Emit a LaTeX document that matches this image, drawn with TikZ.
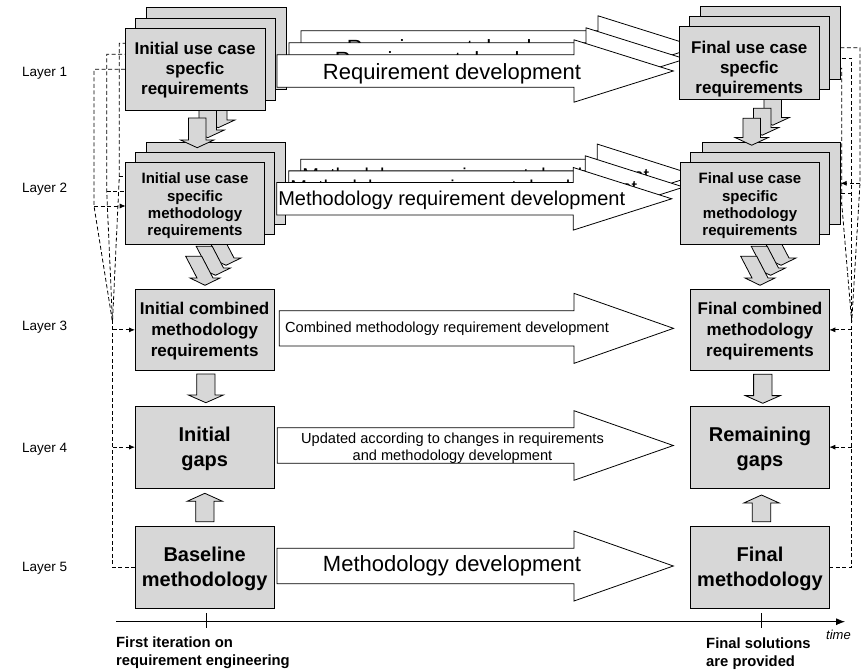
\documentclass[tikz,border=0pt]{standalone}
\usepackage{fontspec}
\setmainfont{Liberation Sans}
\usetikzlibrary{calc,arrows.meta}

\pgfdeclarelayer{links}
\pgfdeclarelayer{dnB}
\pgfdeclarelayer{boxB}
\pgfdeclarelayer{dnA}
\pgfdeclarelayer{boxA}
\pgfdeclarelayer{flow}
\pgfdeclarelayer{dnBR}
\pgfdeclarelayer{boxBR}
\pgfdeclarelayer{dnAR}
\pgfsetlayers{links,dnB,boxB,dnA,boxA,flow,dnBR,boxBR,dnAR,main}

\definecolor{boxgray}{RGB}{215,215,215}

% block arrow: style, start, tip, shaft half width, head half width, head length
\newcommand\blockarr[6]{%
  \coordinate (bas) at #2;
  \coordinate (bat) at #3;
  \coordinate (bab) at ($(bat)!#6!(bas)$);
  \filldraw[#1] ($(bas)!#4!90:(bat)$) -- ($(bab)!#4!90:(bat)$) -- ($(bab)!#5!90:(bat)$)
     -- (bat) -- ($(bab)!#5!-90:(bat)$) -- ($(bab)!#4!-90:(bat)$) -- ($(bas)!#4!-90:(bat)$) -- cycle;}

% downward arrow with a slanted shaft: style, shaft top centre, head base centre,
% shaft half width, head half width, head length
\newcommand\slantarr[6]{%
  \coordinate (sla) at #2;
  \coordinate (slb) at #3;
  \filldraw[#1] ($(sla)+(-#4,0)$) -- ($(sla)+(#4,0)$) -- ($(slb)+(#4,0)$) -- ($(slb)+(#5,0)$)
     -- ($(slb)+(0,#6)$) -- ($(slb)+(-#5,0)$) -- ($(slb)+(-#4,0)$) -- cycle;}

% grey box with its caption: name, centre, width, height, caption style, caption
\newcommand\card[6]{%
  \node[box, minimum width=#3, minimum height=#4] (#1) at #2 {};
  \node[#5] (#1-t) at (#1.center) {#6};}

\tikzset{
  box/.style={draw=black, line width=0.8pt, fill=boxgray, inner sep=0pt, outer sep=0pt},
  garrow/.style={draw=black, line width=0.8pt, fill=boxgray, line join=miter},
  warrow/.style={draw=black, line width=0.8pt, fill=white, line join=miter},
  link/.style={draw=black, line width=0.8pt, dash pattern=on 4pt off 2.5pt},
  linkarr/.style={link, -{Latex[length=6pt,width=5pt]}},
  fA/.style={align=center, inner sep=0pt, font=\fontsize{17}{20}\selectfont\bfseries, yshift=-1pt},
  fB/.style={align=center, inner sep=0pt, font=\fontsize{15}{17.3}\selectfont\bfseries, yshift=-2.7pt},
  fC/.style={align=center, inner sep=0pt, font=\fontsize{17}{21}\selectfont\bfseries, yshift=-1.5pt},
  fD/.style={align=center, inner sep=0pt, font=\fontsize{20}{24.5}\selectfont\bfseries, yshift=-1.5pt},
  big/.style={inner sep=0pt, font=\fontsize{22}{26}\selectfont},
  mid/.style={inner sep=0pt, font=\fontsize{20}{24}\selectfont},
  small/.style={inner sep=0pt, align=center, font=\fontsize{14.6}{17.4}\selectfont},
  layer/.style={inner sep=0pt, anchor=west, font=\fontsize{13.5}{16}\selectfont},
  foot/.style={inner sep=0pt, anchor=west, align=left, font=\fontsize{14.8}{18.3}\selectfont\bfseries},
}

\begin{document}
\begin{tikzpicture}[x=1pt, y=-1pt, line join=miter]
\useasboundingbox (0,0) rectangle (862,671);

% ---------- layer 1 and 2 stacks, left ----------
\begin{pgfonlayer}{boxA}
  \card{iu1a}{(216,48.5)}{140pt}{82pt}{fA}{Initial use case\\specfic\\requirements}
  \card{iu1b}{(205,59)}{140pt}{82pt}{fA}{Initial use case\\specfic\\requirements}
  \card{iu1c}{(195,69)}{140pt}{82pt}{fA}{Initial use case\\specfic\\requirements}
\end{pgfonlayer}
\begin{pgfonlayer}{boxB}
  \card{im2a}{(215.85,183.3)}{138.6pt}{82pt}{fB}{Initial use case\\specific\\methodology\\requirements}
  \card{im2b}{(205,193.3)}{138.6pt}{82pt}{fB}{Initial use case\\specific\\methodology\\requirements}
  \card{im2c}{(195,203.3)}{138.6pt}{82pt}{fB}{Initial use case\\specific\\methodology\\requirements}
\end{pgfonlayer}

% ---------- layer 1 and 2 stacks, right ----------
\card{fu1a}{(770.3,42.8)}{140pt}{73pt}{fA,yshift=-5pt}{Final use case\\specfic\\requirements}
\card{fu1b}{(759.3,52.8)}{140pt}{73pt}{fA,yshift=-5pt}{Final use case\\specfic\\requirements}
\card{fu1c}{(749.3,63)}{140pt}{73pt}{fA,yshift=-5pt}{Final use case\\specfic\\requirements}
\begin{pgfonlayer}{boxBR}
  \card{fm2a}{(771.35,183.3)}{138.6pt}{82pt}{fB}{Final use case\\specific\\methodology\\requirements}
  \card{fm2b}{(760,193.3)}{138.6pt}{82pt}{fB}{Final use case\\specific\\methodology\\requirements}
  \card{fm2c}{(750,203.3)}{138.6pt}{82pt}{fB}{Final use case\\specific\\methodology\\requirements}
\end{pgfonlayer}

% ---------- layers 3 to 5 ----------
\card{icm}{(204.65,329.85)}{139.3pt}{81.7pt}{fC}{Initial combined\\methodology\\requirements}
\card{igap}{(204.65,447.15)}{139.3pt}{82.3pt}{fD}{Initial\\gaps}
\card{bmeth}{(204.65,567.5)}{139.3pt}{81.6pt}{fD}{Baseline\\methodology}
\card{fcm}{(760,329.85)}{138.6pt}{81.7pt}{fC}{Final combined\\methodology\\requirements}
\card{rgap}{(760,447.15)}{138.6pt}{82.3pt}{fD}{Remaining\\gaps}
\card{fmeth}{(760,567.5)}{138.6pt}{81.6pt}{fD}{Final\\methodology}

% ---------- development arrows of the stacked layers ----------
\begin{pgfonlayer}{flow}
  \coordinate (q1s) at ($(iu1c.east)+(12,2)$);
  \coordinate (q1t) at ($(fu1c.west)+(-6,8)$);
  \foreach \k in {2,1,0} {%
    \blockarr{warrow}{($(q1s)+(12*\k,-12*\k)$)}{($(q1t)+(12*\k,-12*\k)$)}{16.2pt}{31.2pt}{99.3pt}
    \node[big] (q1n\k) at ($(q1s)+(175+12*\k,2.5-12*\k)$) {Requirement development};
  }
  \coordinate (q2s) at ($(im2c.east)+(12.4,-4.5)$);
  \coordinate (q2t) at ($(fm2c.west)+(-9,-4.5)$);
  \foreach \k in {2,1,0} {%
    \blockarr{warrow}{($(q2s)+(12*\k,-11.7*\k)$)}{($(q2t)+(12*\k,-11.7*\k)$)}{16.2pt}{31.3pt}{98.4pt}
    \node[mid] (q2n\k) at ($(q2s)+(175+12*\k,1.9-11.7*\k)$) {Methodology requirement development};
  }
\end{pgfonlayer}

% ---------- development arrows of layers 3 to 5 ----------
\blockarr{warrow}{($(icm.east)+(5,-1.5)$)}{($(fcm.west)+(-17.2,-1.5)$)}{17.7pt}{35pt}{99.5pt}
\node[small] (q3n) at ($(icm.east)+(172.7,-1.5)$) {Combined methodology requirement development};
\blockarr{warrow}{($(igap.east)+(3,-1.65)$)}{($(rgap.west)+(-17.4,-1.65)$)}{17.8pt}{34.8pt}{99.3pt}
\node[small] (q4n) at ($(igap.east)+(178.2,0.85)$) {Updated according to changes in requirements\\and methodology development};
\blockarr{warrow}{($(bmeth.east)+(2.7,-1.5)$)}{($(fmeth.west)+(-17.4,-1.5)$)}{17.8pt}{35pt}{99.3pt}
\node[big] (q5n) at ($(bmeth.east)+(177.7,-1.5)$) {Methodology development};

% ---------- vertical block arrows ----------
\begin{pgfonlayer}{dnA}
  \foreach \k in {2,1,0} {%
    \blockarr{garrow}{($(iu1c.south)+(2.2+10.5*\k,8-10*\k)$)}{($(iu1c.south)+(2.2+10.5*\k,37.7-10*\k)$)}{8.8pt}{16.7pt}{7.7pt}
  }
\end{pgfonlayer}
\begin{pgfonlayer}{dnAR}
  \foreach \k in {2,1,0} {%
    \blockarr{garrow}{($(fu1c.south)+(2.4+10.5*\k,18.7-10*\k)$)}{($(fu1c.south)+(2.4+10.5*\k,45.7-10*\k)$)}{8.8pt}{16.7pt}{7.7pt}
  }
\end{pgfonlayer}
\begin{pgfonlayer}{dnB}
  \foreach \k in {2,1,0} {%
    \slantarr{garrow}{($(im2c.south)+(-1.3+10.5*\k,12-10*\k)$)}{($(im2c.south)+(10+10.5*\k,33.7-10*\k)$)}{8}{15}{7.3}
  }
\end{pgfonlayer}
\begin{pgfonlayer}{dnBR}
  \foreach \k in {2,1,0} {%
    \slantarr{garrow}{($(fm2c.south)+(-1.3+10.5*\k,12-10*\k)$)}{($(fm2c.south)+(10+10.5*\k,33.7-10*\k)$)}{8}{15}{7.3}
  }
\end{pgfonlayer}
\blockarr{garrow}{($(icm.south)+(1.2,3.3)$)}{($(icm.south)+(1.2,32)$)}{9.2pt}{17.5pt}{7.7pt}
\blockarr{garrow}{($(fcm.south)+(2.8,3.6)$)}{($(fcm.south)+(2.8,32.6)$)}{9.2pt}{17.5pt}{7.7pt}
\blockarr{garrow}{($(bmeth.north)+(0.2,-5)$)}{($(bmeth.north)+(0.2,-33.4)$)}{9.2pt}{17.7pt}{8pt}
\blockarr{garrow}{($(fmeth.north)+(1.5,-5)$)}{($(fmeth.north)+(1.5,-31.7)$)}{9.2pt}{17.7pt}{8pt}

% ---------- dashed feedback lines ----------
\begin{pgfonlayer}{links}
  \coordinate (lm) at (112.5,322);
  \coordinate (rm) at (851.7,322);
  \draw[link] ($(iu1a.west)+(0,-5.2)$) -| (119.3,176.7) -- (lm);
  \draw[linkarr] (119.3,176.7) -- ($(im2a.west)+(0,-6.6)$);
  \draw[link] ($(iu1b.west)+(0,-4.7)$) -| (106.7,191) -- (lm);
  \draw[linkarr] (106.7,191) -- ($(im2b.west)+(0,-2.3)$);
  \draw[link] ($(iu1c.west)+(0,0.3)$) -| (94,206) -- (lm);
  \draw[linkarr] (94,206) -- ($(im2c.west)+(0,2.7)$);
  \draw[link] (bmeth.west) -| (lm);
  \draw[linkarr] (icm.west -| lm) -- (icm.west);
  \draw[linkarr] (igap.west -| lm) -- (igap.west);
  \draw[link] ($(fu1a.east)+(0,4.9)$) -| (860,183.3) -- (rm);
  \draw[linkarr] (860,183.3) -- (fm2a.east);
  \draw[link] ($(fu1b.east)+(0,5.5)$) -| (rm);
  \draw[linkarr] (fm2b.east -| rm) -- (fm2b.east);
  \draw[link] ($(fu1c.east)+(0,5.3)$) -| (841.7,203.3) -- (rm);
  \draw[linkarr] (841.7,203.3) -- (fm2c.east);
  \draw[link] (fmeth.east) -| (rm);
  \draw[linkarr] (fcm.east -| rm) -- (fcm.east);
  \draw[linkarr] (rgap.east -| rm) -- (rgap.east);
\end{pgfonlayer}

% ---------- time axis ----------
\coordinate (t0) at (116,621.7);
\coordinate (t1) at (845,621.7);
\draw[line width=0.8pt, -{Latex[length=9pt,width=7pt]}] (t0) -- (t1);
\draw[line width=0.8pt] ($(bmeth.south)+(2,5)$) -- ++(0,15);
\draw[line width=0.8pt] ($(fmeth.south)+(1.7,5)$) -- ++(0,15);
\node[inner sep=0pt, anchor=west, font=\fontsize{13}{15}\selectfont\itshape] (tm) at (826,635) {time};
\node[foot] (ft0) at (116,653) {First iteration on\\requirement engineering};
\node[foot] (ft1) at (706,653.5) {Final solutions\\are provided};

% ---------- layer labels ----------
\node[layer] (lay1) at (22,73) {Layer 1};
\node[layer] (lay2) at (22,189) {Layer 2};
\node[layer] (lay3) at (22,327) {Layer 3};
\node[layer] (lay4) at (22,449) {Layer 4};
\node[layer] (lay5) at (22,568) {Layer 5};
\end{tikzpicture}
\end{document}
